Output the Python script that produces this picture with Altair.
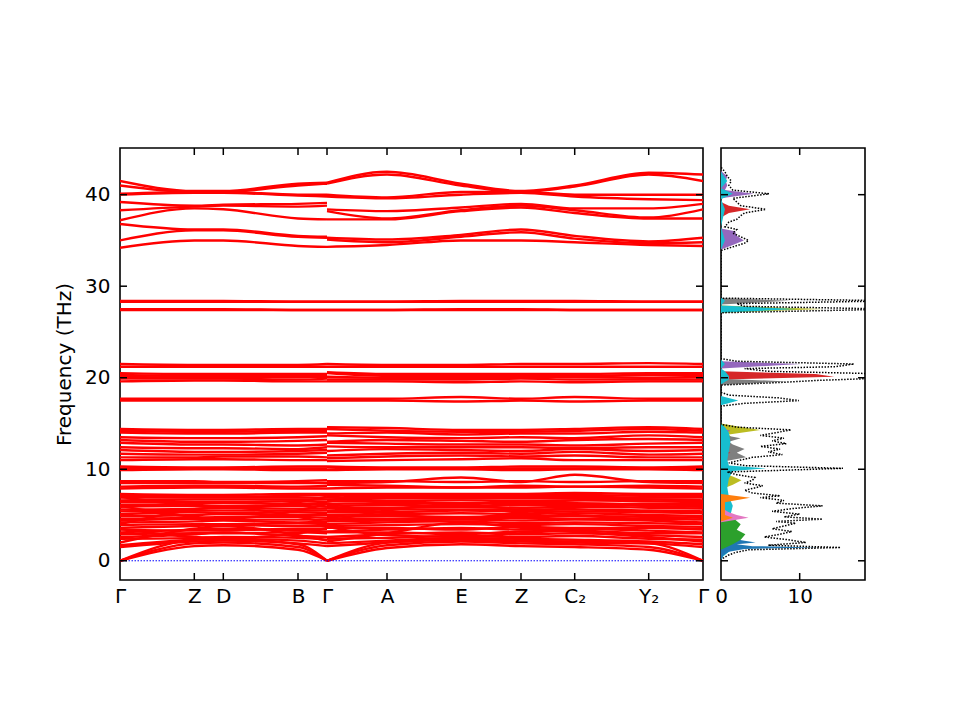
import altair as alt
import pandas as pd

# high-symmetry points along the path (cumulative distance) and their labels
kpath_x = [0, 74.3, 103.3, 178, 207, 267, 341, 401, 454.7, 528.7, 583]
kpath_labels = ["Γ", "Z", "D", "B", "Γ", "A", "E", "Z", "C₂", "Y₂", "Γ"]

# each band is sampled at Γ Z D B Γ | Γ A E Z C2 Y2 Γ (path breaks at the 2nd Γ)
band_x = [0, 74.3, 103.3, 178, 207, 207, 267, 341, 401, 454.7, 528.7, 583]
band_seg = [0, 0, 0, 0, 0, 1, 1, 1, 1, 1, 1, 1]

bands_top = [
    [41.5, 40.4, 40.4, 41.2, 41.3, 41.3, 42.5, 41.2, 40.4, 41.0, 42.4, 42.2],
    [41.0, 40.3, 40.3, 41.0, 41.2, 41.2, 42.2, 41.0, 40.3, 40.9, 42.2, 41.5],
    [40.1, 40.3, 40.3, 40.0, 40.0, 40.0, 39.7, 40.3, 40.3, 40.0, 40.0, 40.0],
    [40.0, 40.2, 40.2, 39.9, 39.8, 39.8, 39.6, 40.0, 40.2, 39.8, 39.5, 39.4],
    [39.2, 38.8, 38.9, 39.0, 39.1, 38.4, 38.2, 38.6, 39.0, 38.5, 38.5, 39.0],
    [38.3, 38.7, 38.8, 38.7, 38.8, 38.2, 37.4, 38.3, 38.8, 38.3, 37.5, 38.4],
    [37.2, 38.5, 38.4, 37.4, 37.3, 37.3, 37.3, 38.2, 38.6, 38.0, 37.4, 37.4],
    [36.8, 36.2, 36.2, 35.5, 35.4, 35.3, 35.1, 35.6, 36.2, 35.5, 34.9, 35.3],
    [35.0, 36.1, 36.1, 35.4, 35.3, 35.1, 34.8, 35.4, 35.9, 35.2, 34.7, 34.8],
    [34.2, 35.0, 35.0, 34.4, 34.3, 34.3, 34.5, 35.0, 35.0, 34.8, 34.5, 34.4],
]

bands_28 = [
    [28.4, 28.4, 28.4, 28.3, 28.3, 28.3, 28.3, 28.4, 28.4, 28.4, 28.3, 28.3],
    [28.3, 28.3, 28.3, 28.3, 28.3, 28.3, 28.3, 28.3, 28.3, 28.3, 28.3, 28.3],
    [27.5, 27.5, 27.5, 27.4, 27.4, 27.4, 27.4, 27.5, 27.5, 27.4, 27.4, 27.4],
    [27.4, 27.4, 27.4, 27.4, 27.4, 27.4, 27.4, 27.4, 27.4, 27.4, 27.4, 27.4],
]

bands_20 = [
    [17.5, 17.5, 17.5, 17.5, 17.5, 17.5, 17.5, 17.4, 17.5, 17.4, 17.5, 17.5],
    [17.7, 17.7, 17.7, 17.7, 17.7, 17.7, 17.7, 17.9, 17.7, 17.9, 17.7, 17.7],
    [19.6, 19.7, 19.7, 19.6, 19.6, 19.6, 19.6, 19.5, 19.6, 19.5, 19.6, 19.6],
    [19.9, 19.9, 19.9, 19.8, 19.9, 19.8, 19.8, 19.8, 19.9, 19.8, 19.8, 19.8],
    [20.1, 20.0, 20.0, 20.1, 20.1, 20.1, 20.0, 20.0, 20.0, 20.1, 20.0, 20.1],
    [20.3, 20.2, 20.2, 20.2, 20.3, 20.5, 20.2, 20.2, 20.2, 20.2, 20.3, 20.3],
    [20.5, 20.4, 20.4, 20.4, 20.4, 20.6, 20.4, 20.4, 20.4, 20.4, 20.5, 20.5],
    [21.2, 21.2, 21.2, 21.2, 21.2, 21.2, 21.2, 21.2, 21.2, 21.2, 21.2, 21.2],
    [21.5, 21.4, 21.4, 21.4, 21.5, 21.5, 21.4, 21.4, 21.5, 21.5, 21.6, 21.5],
]

bands_12 = [
    [9.9, 10.0, 10.0, 9.9, 9.9, 9.9, 10.0, 10.0, 9.9, 10.0, 10.0, 9.9],
    [10.1, 10.1, 10.1, 10.1, 10.1, 10.2, 10.1, 10.1, 10.1, 10.1, 10.1, 10.1],
    [10.3, 10.2, 10.2, 10.3, 10.3, 10.3, 10.2, 10.2, 10.3, 10.3, 10.2, 10.3],
    [11.0, 11.1, 11.1, 11.0, 11.0, 10.9, 11.0, 11.1, 11.2, 11.0, 11.0, 11.0],
    [11.3, 11.3, 11.4, 11.4, 11.3, 11.2, 11.4, 11.5, 11.4, 11.5, 11.3, 11.3],
    [11.7, 11.6, 11.6, 11.7, 11.8, 11.5, 11.7, 11.8, 11.7, 11.9, 11.6, 11.7],
    [12.1, 11.9, 11.9, 12.0, 12.1, 12.0, 12.2, 12.1, 12.0, 12.2, 12.0, 12.1],
    [12.4, 12.3, 12.3, 12.2, 12.4, 12.5, 12.4, 12.4, 12.4, 12.3, 12.4, 12.4],
    [12.9, 12.7, 12.7, 12.6, 12.7, 12.9, 12.8, 12.7, 12.7, 12.6, 12.8, 12.9],
    [13.2, 13.0, 13.0, 13.1, 13.2, 13.0, 13.2, 13.1, 13.0, 13.2, 13.3, 13.2],
    [13.5, 13.4, 13.4, 13.5, 13.6, 13.7, 13.5, 13.4, 13.5, 13.4, 13.7, 13.5],
    [14.0, 13.9, 13.9, 14.0, 14.0, 13.9, 14.0, 13.8, 13.9, 13.9, 14.1, 14.0],
    [14.2, 14.1, 14.1, 14.2, 14.2, 14.4, 14.2, 14.1, 14.1, 14.2, 14.4, 14.2],
    [14.4, 14.3, 14.3, 14.4, 14.4, 14.6, 14.5, 14.3, 14.3, 14.4, 14.6, 14.4],
]

bands_8 = [
    [7.9, 8.0, 8.0, 7.9, 7.9, 7.9, 8.0, 8.0, 8.0, 8.1, 8.0, 7.9],
    [8.1, 8.2, 8.2, 8.1, 8.2, 8.3, 8.2, 8.0, 8.2, 8.1, 8.2, 8.1],
    [8.5, 8.5, 8.5, 8.5, 8.5, 8.5, 8.6, 9.1, 8.6, 9.4, 8.6, 8.5],
    [8.7, 8.7, 8.6, 8.7, 8.8, 8.7, 8.7, 8.6, 8.7, 8.6, 8.7, 8.7],
]

bands_low = [
    [0.0, 1.6, 1.7, 1.2, 0.0, 0.0, 1.4, 1.8, 1.6, 1.5, 1.2, 0.0],
    [0.0, 1.9, 2.0, 1.5, 0.0, 0.0, 1.7, 2.1, 1.9, 1.8, 1.5, 0.0],
    [0.0, 2.3, 2.4, 1.8, 0.0, 0.0, 2.0, 2.4, 2.2, 2.1, 1.9, 0.0],
    [1.5, 2.1, 2.2, 1.9, 1.6, 1.6, 2.0, 2.3, 2.1, 2.0, 1.9, 1.5],
    [1.7, 2.3, 2.4, 2.2, 1.9, 1.9, 2.2, 2.5, 2.4, 2.3, 2.1, 1.8],
    [2.4, 2.5, 2.6, 2.5, 2.3, 2.4, 2.5, 2.7, 2.6, 2.7, 2.4, 2.3],
    [2.6, 2.9, 3.1, 2.7, 2.6, 2.6, 2.9, 3.1, 2.9, 3.0, 2.8, 2.6],
    [2.9, 3.0, 3.0, 3.1, 3.0, 3.1, 3.1, 2.9, 3.2, 3.3, 3.0, 3.0],
    [3.1, 3.4, 3.5, 3.3, 3.2, 3.2, 3.4, 3.6, 3.4, 3.5, 3.3, 3.1],
    [3.4, 3.3, 3.3, 3.5, 3.5, 3.6, 3.6, 3.4, 3.7, 3.6, 3.6, 3.4],
    [3.6, 3.8, 3.9, 3.8, 3.8, 3.8, 3.9, 4.0, 3.9, 4.0, 3.8, 3.7],
    [3.9, 4.0, 4.0, 4.1, 4.0, 4.0, 4.2, 4.3, 4.1, 4.2, 4.1, 4.0],
    [4.2, 4.3, 4.4, 4.2, 4.3, 4.3, 4.4, 4.5, 4.4, 4.5, 4.4, 4.2],
    [4.4, 4.6, 4.5, 4.5, 4.5, 4.6, 4.6, 4.7, 4.7, 4.6, 4.6, 4.5],
    [4.6, 4.7, 4.8, 4.8, 4.7, 4.8, 4.9, 4.8, 4.9, 4.9, 4.8, 4.7],
    [4.9, 5.0, 5.1, 5.0, 5.0, 5.0, 5.1, 5.2, 5.1, 5.2, 5.0, 4.9],
    [5.1, 5.3, 5.2, 5.3, 5.2, 5.3, 5.3, 5.5, 5.4, 5.4, 5.3, 5.2],
    [5.4, 5.5, 5.5, 5.5, 5.5, 5.5, 5.6, 5.6, 5.6, 5.6, 5.5, 5.4],
    [5.6, 5.7, 5.8, 5.7, 5.7, 5.8, 5.8, 5.9, 5.8, 5.9, 5.8, 5.7],
    [5.9, 6.0, 6.0, 6.0, 5.9, 6.0, 6.1, 6.0, 6.1, 6.1, 6.0, 5.9],
    [6.1, 6.2, 6.3, 6.2, 6.2, 6.2, 6.3, 6.3, 6.3, 6.3, 6.2, 6.2],
    [6.4, 6.4, 6.4, 6.5, 6.4, 6.5, 6.5, 6.6, 6.5, 6.6, 6.5, 6.4],
    [6.6, 6.7, 6.7, 6.7, 6.7, 6.7, 6.8, 6.8, 6.8, 6.8, 6.7, 6.6],
    [6.9, 6.9, 6.9, 6.9, 6.9, 6.9, 7.0, 7.0, 7.0, 7.0, 6.9, 6.9],
    [7.1, 7.1, 7.0, 7.1, 7.2, 7.2, 7.2, 7.1, 7.2, 7.2, 7.1, 7.2],
    [7.3, 7.2, 7.2, 7.3, 7.3, 7.3, 7.3, 7.3, 7.3, 7.4, 7.3, 7.3],
    # bands that cut across the dense block
    [2.0, 3.5, 3.8, 2.8, 2.2, 2.1, 3.0, 4.2, 3.6, 3.2, 2.6, 2.1],
    [4.0, 5.6, 5.9, 4.8, 4.2, 4.3, 5.5, 6.2, 5.5, 5.0, 4.5, 4.0],
    [6.0, 4.8, 4.6, 5.5, 6.2, 6.3, 5.2, 4.6, 5.3, 5.8, 6.2, 6.0],
    [3.5, 2.6, 2.5, 3.0, 3.6, 3.7, 2.8, 2.6, 3.0, 3.4, 3.6, 3.5],
    [7.0, 6.0, 5.8, 6.4, 7.0, 7.1, 6.3, 5.9, 6.3, 6.6, 6.9, 7.0],
]

# total phonon DOS (black dotted)
dos_freq = [0.0, 0.3, 0.6, 0.9, 1.2, 1.45, 1.7, 2.0, 2.3, 2.6, 2.9, 3.2, 3.5, 3.8, 4.1,
            4.3, 4.55, 4.8, 5.1, 5.4, 5.7, 6.0, 6.3, 6.6, 6.9, 7.1, 7.4, 7.7, 8.0, 8.2,
            8.5, 8.8, 9.1, 9.4, 9.7, 10.1, 10.4, 10.7, 11.0, 11.3, 11.6, 11.9, 12.2, 12.5,
            12.8, 13.1, 13.4, 13.7, 14.0, 14.3, 14.6, 14.9, 16.9, 17.2, 17.5, 17.8, 18.1,
            18.4, 19.2, 19.5, 19.7, 20.0, 20.2, 20.4, 20.7, 21.0, 21.2, 21.5, 21.8, 22.1,
            27.1, 27.5, 27.8, 28.1, 28.4, 28.7, 33.9, 34.3, 34.7, 35.0, 35.4, 35.8, 36.2,
            36.5, 37.0, 37.3, 37.7, 38.0, 38.4, 38.8, 39.2, 39.6, 40.1, 40.5, 41.0, 41.5,
            42.0, 42.5, 43.0]
dos_total = [0, 0.3, 0.9, 1.8, 3.5, 15.2, 6.0, 10.8, 8.5, 5.5, 7.5, 9.0, 6.5, 8.0, 9.5,
             7.0, 12.9, 8.0, 10.0, 6.5, 9.0, 12.9, 7.0, 8.0, 5.0, 7.5, 4.0, 3.0, 4.5, 5.3,
             3.0, 4.0, 4.3, 2.0, 0.8, 15.5, 3.0, 1.0, 2.5, 4.0, 7.8, 6.0, 7.5, 5.0,
             8.3, 6.5, 8.0, 5.0, 7.0, 8.9, 2.0, 0, 0, 3.0, 9.9, 7.3, 1.0,
             0, 0, 8.0, 12.0, 22, 19, 22, 6, 3, 14.5, 16.9, 2, 0,
             0, 22, 3, 2, 22, 0, 0, 1.5, 3.0, 3.5, 2.5, 1.5, 2.0,
             0.5, 1.0, 2.0, 2.5, 3.0, 5.7, 2.5, 2.0, 1.5, 6.1, 1.5, 1.0, 1.3,
             0.8, 0.5, 0]

# projected DOS components
olive_f = [7.8, 8.3, 8.8, 9.2, 9.6, 12.8, 13.3, 13.8, 14.3, 14.7, 15.0, 27.1, 27.5, 27.9, 34.6, 35.0, 35.4]
olive_d = [0, 1.5, 2.6, 1.5, 0, 0, 1.5, 1.0, 5.0, 2.0, 0, 0, 13.0, 0, 0, 0.6, 0]
gray_f = [10.8, 11.3, 11.8, 12.2, 12.7, 13.0, 13.4, 13.8, 19.2, 19.6, 19.9, 28.0, 28.4, 28.7, 37.8, 38.4, 38.9]
gray_d = [0, 3.2, 2.0, 3.0, 1.5, 1.0, 2.5, 0, 0, 8.4, 0, 0, 8.8, 0, 0, 1.0, 0]
red_f = [11.4, 11.8, 12.2, 19.8, 20.1, 20.4, 20.7, 37.5, 38.0, 38.4, 38.8, 39.2]
red_d = [0, 1.2, 0, 0, 14.4, 12.0, 0, 0, 1.0, 3.7, 1.0, 0]
purple_f = [13.8, 14.2, 14.5, 21.0, 21.5, 21.8, 34.0, 34.5, 35.0, 35.5, 36.0, 36.3,
            39.6, 40.1, 40.5, 41.0, 41.5, 42.0, 42.6]
purple_d = [0, 1.2, 0, 0, 10.1, 0, 0, 1.5, 2.9, 2.0, 1.8, 0, 0, 4.2, 0.5, 0.8, 0.6, 0.8, 0]
cyan_f = [0, 0.5, 1.0, 1.45, 2.0, 3.0, 4.0, 4.55, 5.0, 6.0, 7.0, 8.0, 9.0, 9.8, 10.1, 10.4,
          11.0, 12.0, 13.0, 14.0, 14.6, 15.0, 17.0, 17.5, 18.0, 19.3, 19.8, 20.2, 20.7, 21.0,
          21.5, 22.0, 27.1, 27.5, 27.9, 28.4, 28.8, 34.0, 35.0, 36.5, 38.4, 39.5, 40.1, 40.7,
          41.5, 42.5]
cyan_d = [0, 0.3, 1.0, 2.0, 1.5, 1.2, 1.0, 2.0, 1.2, 1.5, 1.0, 0.8, 1.0, 1.5, 5.7, 1.0,
          0.8, 1.0, 1.2, 1.0, 0.5, 0, 0, 2.2, 0, 0, 1.0, 1.0, 0.5, 0,
          0.5, 0, 0, 9.7, 0, 0.5, 0, 0, 0.5, 0, 0.5, 0, 1.5, 0,
          0.8, 0]
blue_f = [0, 0.6, 1.0, 1.3, 1.45, 1.6, 1.8, 2.0, 2.2, 2.5, 3.0]
blue_d = [0, 0.3, 1.0, 3.0, 12.5, 4.0, 2.0, 4.4, 3.0, 1.0, 0]
green_f = [1.2, 1.8, 2.3, 2.9, 3.4, 4.0, 4.7, 5.2]
green_d = [0, 1.5, 2.5, 3.1, 2.0, 2.5, 1.5, 0]
pink_f = [4.2, 4.7, 5.0, 5.3, 5.8]
pink_d = [0, 3.5, 2.0, 1.0, 0]
orange_f = [4.3, 4.7, 5.0, 6.4, 6.9, 7.3]
orange_d = [0, 1.5, 0.5, 0.5, 3.7, 0]

pdos = [
    ("#bcbd22", olive_f, olive_d), ("#7f7f7f", gray_f, gray_d), ("#d62728", red_f, red_d),
    ("#9467bd", purple_f, purple_d), ("#17becf", cyan_f, cyan_d), ("#1f77b4", blue_f, blue_d),
    ("#2ca02c", green_f, green_d), ("#e377c2", pink_f, pink_d), ("#ff7f0e", orange_f, orange_d),
]

W, H, WD = 583, 432, 144
FMIN, FMAX = -2.1, 45.1
yticks = [0, 10, 20, 30, 40]

rows = []
for gname, group in [("t", bands_top), ("m", bands_28), ("s", bands_20),
                     ("p", bands_12), ("u", bands_8), ("l", bands_low)]:
    for i, band in enumerate(group):
        for x, s, f in zip(band_x, band_seg, band):
            rows.append({"key": f"{gname}{i}_{s}", "x": x, "f": f})
band_df = pd.DataFrame(rows)

xs = ",".join(str(v) for v in kpath_x)
ls = ",".join(f"'{v}'" for v in kpath_labels)
label_expr = f"[{ls}][indexof([{xs}], datum.value)]"

yscale = alt.Scale(domain=[FMIN, FMAX], nice=False, zero=False)

bands = alt.Chart(band_df).mark_line(
    color="#ff0000", strokeWidth=2.4, interpolate="monotone", clip=True
).encode(
    x=alt.X("x:Q", scale=alt.Scale(domain=[0, W], nice=False, zero=False),
            axis=alt.Axis(values=kpath_x, labelExpr=label_expr, title=None,
                          labelFlush=False, labelOverlap=False, labelPadding=6)),
    y=alt.Y("f:Q", scale=yscale,
            axis=alt.Axis(values=yticks, title="Frequency (THz)",
                          labelPadding=10, titlePadding=10)),
    detail="key:N",
    order="x:Q",
)

zero_line = alt.Chart(pd.DataFrame({"f": [0]})).mark_rule(
    color="blue", strokeDash=[1.5, 1.5], strokeWidth=1
).encode(y="f:Q")

ytick_df = pd.DataFrame({"f": yticks})
xtick_df = pd.DataFrame({"x": kpath_x[1:-1]})
tick = dict(color="black", strokeWidth=1.5)

left_ticks = (
    alt.Chart(ytick_df).mark_rule(**tick).encode(y="f:Q", x=alt.value(0), x2=alt.value(7))
    + alt.Chart(ytick_df).mark_rule(**tick).encode(y="f:Q", x=alt.value(W - 7), x2=alt.value(W))
    + alt.Chart(xtick_df).mark_rule(**tick).encode(x="x:Q", y=alt.value(H - 7), y2=alt.value(H))
    + alt.Chart(xtick_df).mark_rule(**tick).encode(x="x:Q", y=alt.value(0), y2=alt.value(7))
)

left = (bands + zero_line + left_ticks).properties(width=W, height=H)

# DOS panel
dscale = alt.Scale(domain=[0, 18.3], nice=False, zero=False)
dos_layers = []
for color, fl, dl in pdos:
    dfp = pd.DataFrame({"f": fl, "d": dl})
    dos_layers.append(
        alt.Chart(dfp).mark_area(color=color, orient="horizontal", clip=True).encode(
            x=alt.X("d:Q", scale=dscale, stack=None,
                    axis=alt.Axis(values=[0, 10], title=None, labelFlush=False, labelPadding=6)),
            y=alt.Y("f:Q", scale=yscale, axis=None),
        )
    )

total = alt.Chart(pd.DataFrame({"f": dos_freq, "d": dos_total})).mark_line(
    color="black", strokeDash=[1.5, 1.5], strokeWidth=1.5, clip=True
).encode(
    x=alt.X("d:Q", scale=dscale),
    y=alt.Y("f:Q", scale=yscale, axis=None),
    order="f:Q",
)

dtick_df = pd.DataFrame({"d": [10]})
right_ticks = (
    alt.Chart(ytick_df).mark_rule(**tick).encode(y=alt.Y("f:Q", scale=yscale, axis=None), x=alt.value(0), x2=alt.value(7))
    + alt.Chart(ytick_df).mark_rule(**tick).encode(y=alt.Y("f:Q", scale=yscale, axis=None), x=alt.value(WD - 7), x2=alt.value(WD))
    + alt.Chart(dtick_df).mark_rule(**tick).encode(x=alt.X("d:Q", scale=dscale), y=alt.value(H - 7), y2=alt.value(H))
    + alt.Chart(dtick_df).mark_rule(**tick).encode(x=alt.X("d:Q", scale=dscale), y=alt.value(0), y2=alt.value(7))
)

right = alt.layer(*dos_layers, total, right_ticks).properties(width=WD, height=H)

chart = alt.hconcat(left, right, spacing=3).properties(
    padding={"left": 45, "top": 138, "right": 5, "bottom": 5}
).configure_view(
    stroke="black", strokeWidth=1.6
).configure_axis(
    domain=False, ticks=False, grid=False,
    labelFont="DejaVu Sans", labelFontSize=20, labelColor="black",
    titleFont="DejaVu Sans", titleFontSize=20, titleFontWeight="normal", titleColor="black",
)

chart.save("out.html", embed_options={"renderer": "svg", "actions": False})
